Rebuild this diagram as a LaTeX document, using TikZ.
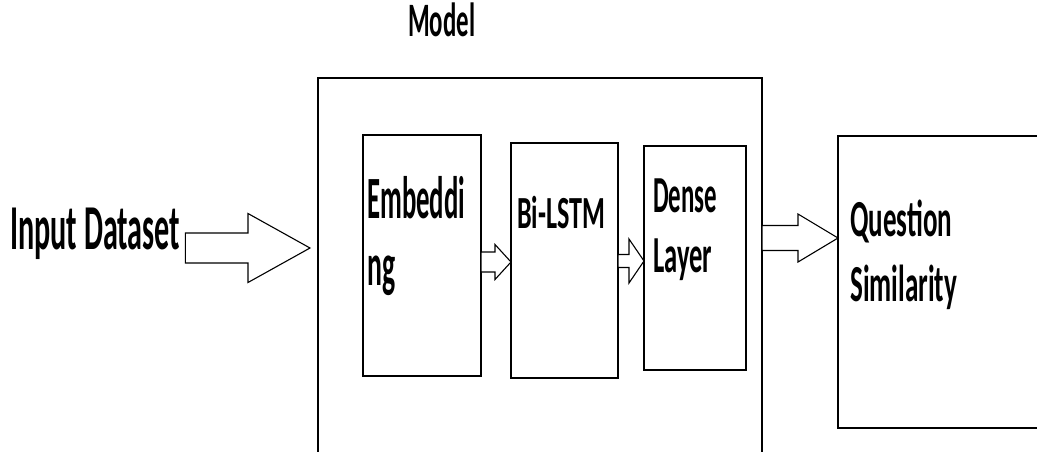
\documentclass[tikz,border=0pt]{standalone}
\usepackage{fontspec}
\setmainfont{Carlito}
\usetikzlibrary{calc}
\newcommand\fitw[3]{\resizebox{#1pt}{\height}{\fontsize{#2}{#2}\selectfont\bfseries #3}}
\newcommand\barrow[5]{\draw[blk] let \p1=(#1), \p2=(#2) in
  (\x1,\y1-#3) -- (\x2-#5,\y1-#3) -- (\x2-#5,\y1-#4) -- (\x2,\y1) --
  (\x2-#5,\y1+#4) -- (\x2-#5,\y1+#3) -- (\x1,\y1+#3) -- cycle;}
\begin{document}
\begin{tikzpicture}[x=1pt,y=-1pt,
  box/.style={draw,line width=1.4pt,inner sep=0,outer sep=0},
  lbl/.style={inner sep=0,anchor=base west},
  blk/.style={draw,line width=1.1pt,fill=white}]
\useasboundingbox (0,0) rectangle (1037,451);
\begin{scope}
\clip (0,0) rectangle (1037,451);
\node[box,minimum width=444,minimum height=392] (model) at (540,274) {};
\node[box,minimum width=212,minimum height=292] (qs) at (944,282) {};
\end{scope}
\node[box,minimum width=118,minimum height=241] (emb) at (422,255.5) {};
\node[box,minimum width=107,minimum height=235] (bi) at (564.5,260.5) {};
\node[box,minimum width=102,minimum height=224] (dense) at (695,258) {};

\node[lbl] (inp) at (10,249) {\fitw{170}{64}{Input Dataset}};
\node[lbl] (mlbl) at (408,36) {\fitw{67}{48}{Model}};
\node[lbl] at (367,218) {\fitw{98}{60}{Embeddi}};
\node[lbl] at (367,285) {\fitw{28}{60}{ng}};
\node[lbl] at (517,228) {\fitw{88}{46}{Bi-LSTM}};
\node[lbl] at (653,212) {\fitw{64}{52}{Dense}};
\node[lbl] at (653,272) {\fitw{59}{52}{Layer}};
\node[lbl] at (850,236) {\fitw{102}{52}{Question}};
\node[lbl] at (850,301) {\fitw{107}{52}{Similarity}};

\coordinate (a1s) at ($(inp.east |- 0,248)+(5,0)$);
\coordinate (a1t) at ($(model.west |- 0,248)+(-8,0)$);
\barrow{a1s}{a1t}{15}{34.5}{62}
\barrow{emb.east |- 0,262}{bi.west |- 0,262}{10}{17.5}{16}
\barrow{bi.east |- 0,261}{dense.west |- 0,261}{6.5}{22}{15}
\barrow{model.east |- 0,238}{qs.west |- 0,238}{12.5}{24}{40}
\end{tikzpicture}
\end{document}
